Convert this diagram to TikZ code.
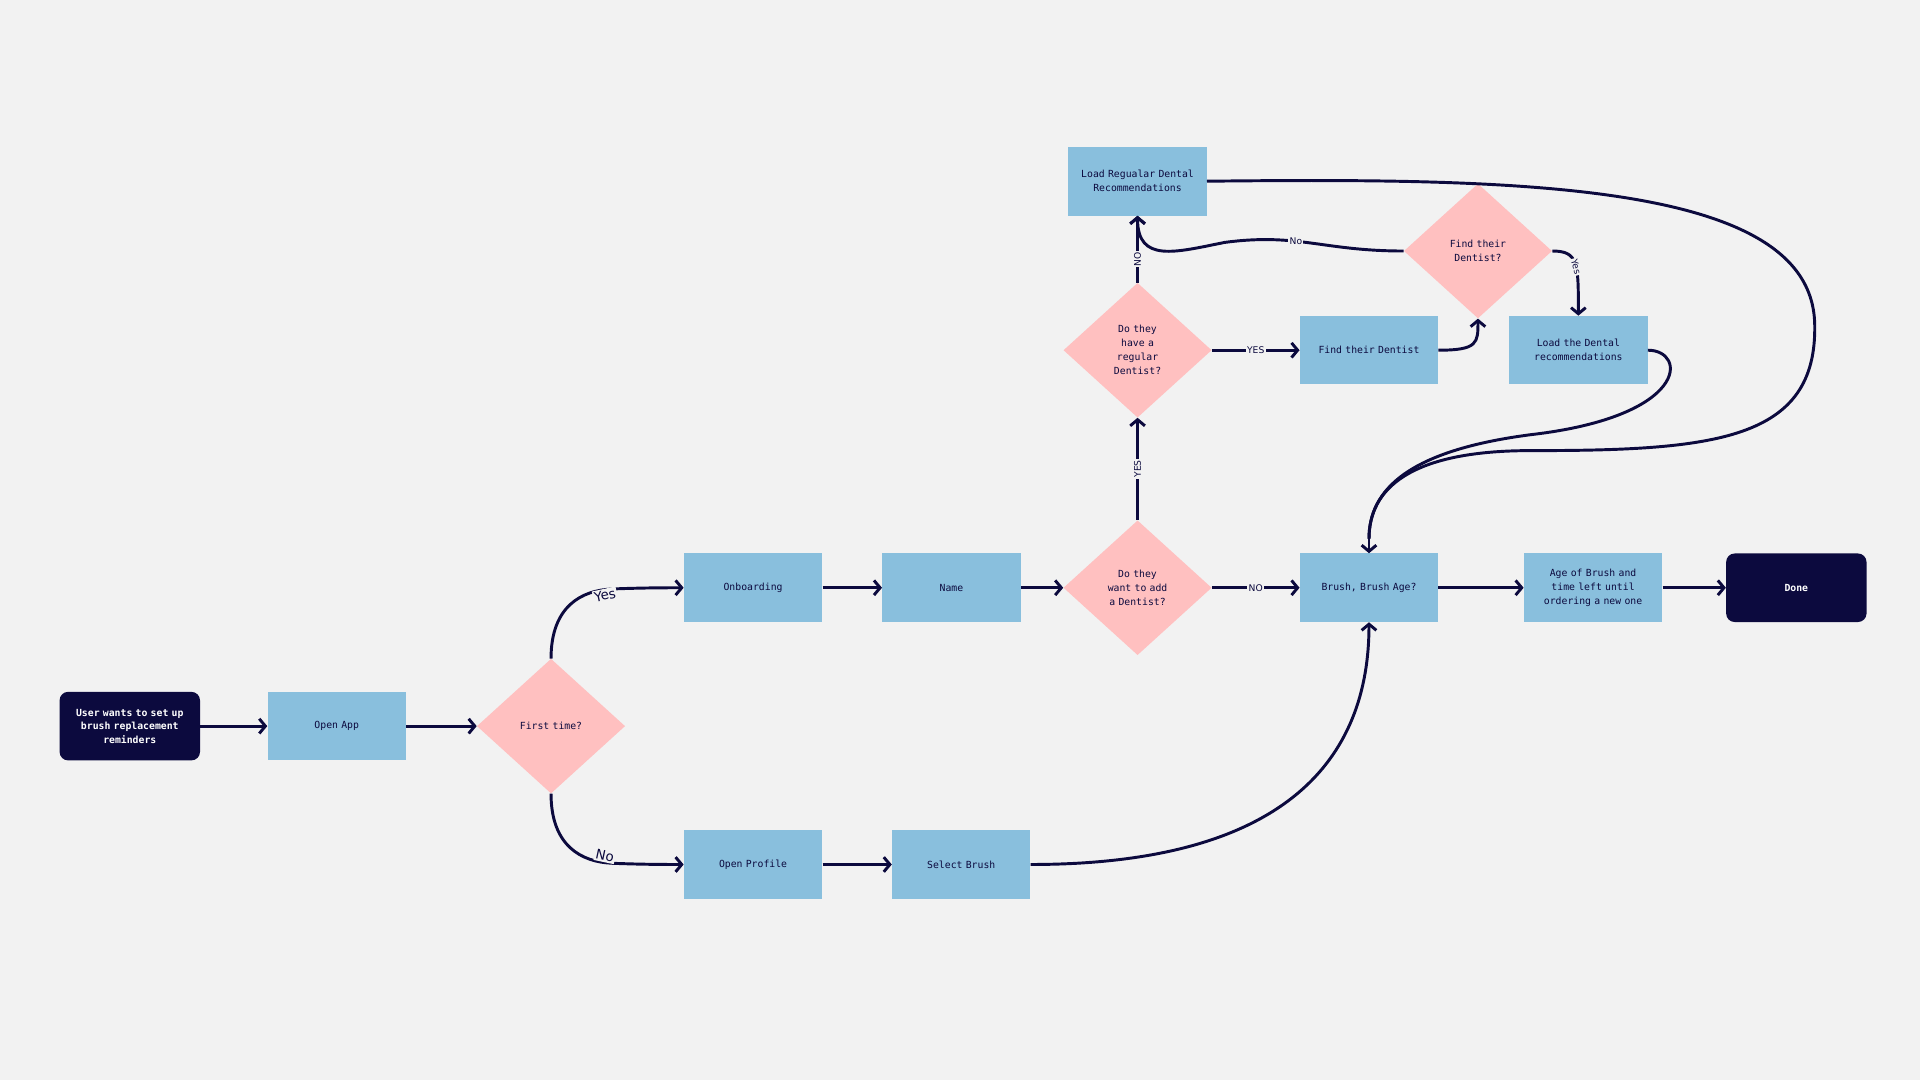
\documentclass[tikz,border=0pt]{standalone}
\usepackage{fontspec}
\setmainfont{DejaVu Sans Mono}
\newfontfamily\lblfont{DejaVu Sans}
\usetikzlibrary{shapes.geometric,arrows.meta}
\definecolor{bg}{HTML}{F2F2F2}
\definecolor{navy}{HTML}{0C0A3E}
\definecolor{boxb}{HTML}{89BFDD}
\definecolor{pink}{HTML}{FFC0C0}
\begin{document}
\hyphenpenalty=10000 \exhyphenpenalty=10000
\begin{tikzpicture}[x=1pt,y=-1pt,
  box/.style={rectangle,fill=boxb,minimum width=113pt,minimum height=56pt,inner sep=2pt,text width=108pt,align=center,font=\fontsize{8}{11.5}\selectfont,text=navy},
  term/.style={rectangle,rounded corners=7pt,fill=navy,minimum width=113pt,minimum height=56pt,text width=108pt,align=center,font=\fontsize{8}{11}\selectfont\bfseries,text=white},
  dia/.style={diamond,fill=pink,minimum width=121pt,minimum height=110pt,inner sep=0pt,aspect=1.1,text width=52pt,align=center,font=\fontsize{8}{11.5}\selectfont,text=navy},
  arr/.style={draw=navy,line width=2.4pt,-{Straight Barb[length=5pt,width=12pt,line width=2.4pt]}},
  ln/.style={draw=navy,line width=2.4pt},
  sl/.style={fill=bg,inner sep=1pt,font=\lblfont\fontsize{7.5}{8}\selectfont,text=navy},
  bl/.style={fill=bg,inner sep=1pt,font=\lblfont\fontsize{11}{12}\selectfont,text=navy}]
\fill[bg] (0,0) rectangle (1568,882);
\node[term] (start) at (106,593) {User wants to set up\\ brush replacement\\ reminders};
\node[box] (app) at (275,593) {Open App};
\node[dia] (first) at (450,593) {First time?};
\node[box] (onb) at (615,480) {Onboarding};
\node[box] (name) at (777,480) {Name};
\node[dia] (add) at (929,480) {Do they\\ want to add\\ a Dentist?};
\node[box] (brush) at (1118,480) {Brush, Brush Age?};
\node[box] (age) at (1301,480) {Age of Brush and\\ time left until\\ ordering a new one};
\node[term] (done) at (1467,480) {Done};
\node[box] (prof) at (615,706) {Open Profile};
\node[box] (sel) at (785,706) {Select Brush};
\node[dia] (reg) at (929,286) {Do they\\ have a\\ regular\\ Dentist?};
\node[box] (find) at (1118,286) {Find their Dentist};
\node[dia] (fq) at (1207,205) {Find their\\ Dentist?};
\node[box] (ld) at (1289,286) {Load the Dental\\ recommendations};
\node[box] (lr) at (929,148) {Load Regualar Dental\\ Recommendations};

\draw[arr] (start) -- (app);
\draw[arr] (app) -- (first);
\draw[arr] (first.north) .. controls (450,495) and (475,482) .. (500,481) .. controls (525,480) and (545,480) .. (onb.west);
\node[bl,rotate=12] (yes) at (494,486) {Yes};
\draw[arr] (first.south) .. controls (450,691) and (475,704) .. (500,705) .. controls (525,706) and (545,706) .. (prof.west);
\node[bl,rotate=-12] (no) at (494,699) {No};
\draw[arr] (onb) -- (name);
\draw[arr] (name) -- (add);
\draw[arr] (add) -- node[sl]{NO} (brush);
\draw[arr] (brush) -- (age);
\draw[arr] (age) -- (done);
\draw[arr] (prof) -- (sel);
\draw[arr] (sel.east) .. controls (1050,706) and (1118,620) .. (brush.south);
\draw[arr] (add.north) -- node[sl,rotate=90]{YES} (reg.south);
\draw[arr] (reg.east) -- node[sl]{YES} (find.west);
\draw[arr] (reg.north) -- node[sl,rotate=90,pos=0.35]{NO} (lr.south);
\draw[arr] (find.east) .. controls (1207,286) and (1207,280) .. (fq.south);
\draw[arr] (fq.west) .. controls (1080,205) and (1060,190) .. node[sl,pos=0.6]{No} (1000,198) .. controls (960,206) and (929,215) .. (lr.south);
\draw[arr] (fq.east) .. controls (1289,205) and (1289,215) .. node[sl,rotate=-75,pos=0.55]{Yes} (ld.north);
\draw[ln] (lr.east) .. controls (1250,145) and (1480,150) .. (1482,265) .. controls (1484,360) and (1400,368) .. (1250,368) .. controls (1150,368) and (1118,400) .. (1118,440);
\draw[ln] (ld.east) .. controls (1378,286) and (1380,340) .. (1250,355) .. controls (1150,368) and (1118,400) .. (1118,440);
\draw[arr] (1118,440) -- (brush.north);
\end{tikzpicture}
\end{document}
